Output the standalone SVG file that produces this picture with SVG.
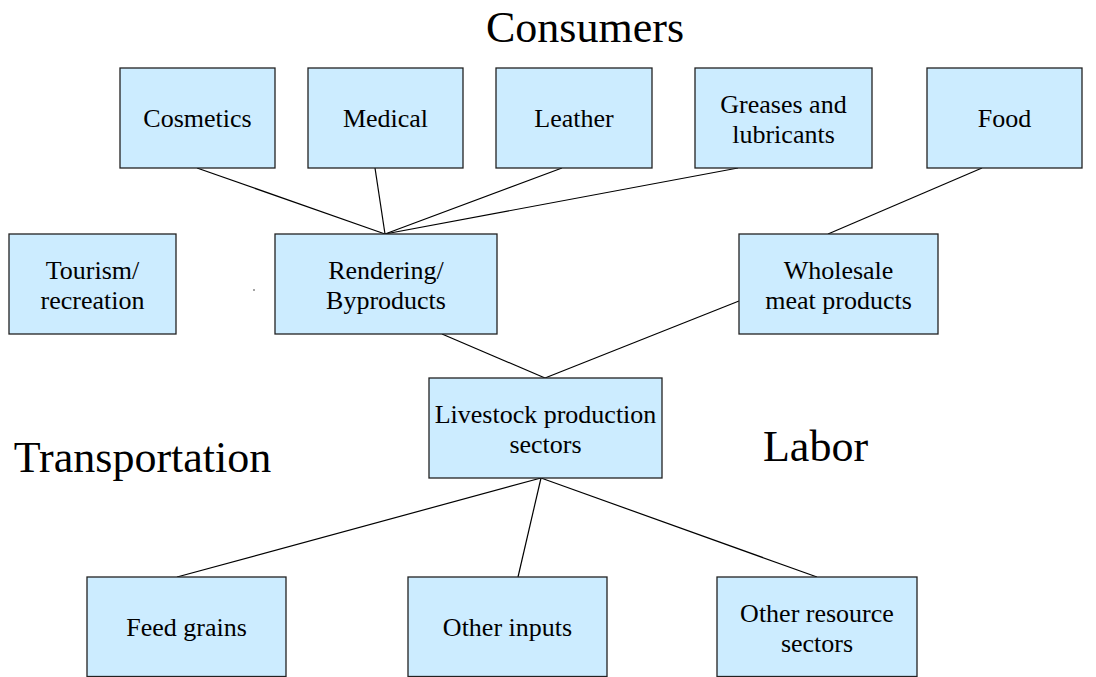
<svg xmlns="http://www.w3.org/2000/svg" width="1096" height="677" viewBox="0 0 1096 677">
  <style>
    .box { fill: #CCECFF; stroke: #222222; stroke-width: 1.3; }
    .lbl { font-family: "Liberation Serif", "Times New Roman", serif; font-size: 26px; fill: #000000; text-anchor: middle; }
    .big { font-family: "Liberation Serif", "Times New Roman", serif; font-size: 44px; fill: #000000; text-anchor: middle; }
    .link { stroke: #000000; stroke-width: 1.2; fill: none; }
  </style>
  <rect x="0" y="0" width="1096" height="677" fill="#FFFFFF"/>

  <!-- free-standing headings -->
  <g id="headings">
    <text class="big" x="585" y="42">Consumers</text>
    <text class="big" x="142.5" y="472">Transportation</text>
    <text class="big" x="815.5" y="461">Labor</text>
  </g>

  <!-- connectors -->
  <g id="connectors">
    <line class="link" x1="197" y1="168" x2="385" y2="234"/>
    <line class="link" x1="375" y1="168" x2="385" y2="234"/>
    <line class="link" x1="562" y1="168" x2="385" y2="234"/>
    <line class="link" x1="738" y1="168" x2="385" y2="234"/>
    <line class="link" x1="982" y1="168" x2="828" y2="234"/>
    <line class="link" x1="442" y1="334" x2="545" y2="378"/>
    <line class="link" x1="739" y1="301" x2="545" y2="378"/>
    <line class="link" x1="541" y1="478" x2="177" y2="577"/>
    <line class="link" x1="541" y1="478" x2="518" y2="577"/>
    <line class="link" x1="541" y1="478" x2="817" y2="577"/>
  </g>

  <!-- consumer sectors -->
  <g id="cosmetics">
    <rect class="box" x="120" y="68" width="155" height="100"/>
    <text class="lbl" x="197.5" y="127">Cosmetics</text>
  </g>
  <g id="medical">
    <rect class="box" x="308" y="68" width="155" height="100"/>
    <text class="lbl" x="385.5" y="127">Medical</text>
  </g>
  <g id="leather">
    <rect class="box" x="496" y="68" width="156" height="100"/>
    <text class="lbl" x="574" y="127">Leather</text>
  </g>
  <g id="greases">
    <rect class="box" x="695" y="68" width="177" height="100"/>
    <text class="lbl" x="783.5" y="112.5">Greases and</text>
    <text class="lbl" x="783.5" y="142.5">lubricants</text>
  </g>
  <g id="food">
    <rect class="box" x="927" y="68" width="155" height="100"/>
    <text class="lbl" x="1004.5" y="127">Food</text>
  </g>

  <!-- processing sectors -->
  <g id="tourism">
    <rect class="box" x="9" y="234" width="167" height="100"/>
    <text class="lbl" x="92.5" y="278.5">Tourism/</text>
    <text class="lbl" x="92.5" y="308.5">recreation</text>
  </g>
  <circle cx="254" cy="290" r="0.8" fill="#333333"/>
  <g id="rendering">
    <rect class="box" x="275" y="234" width="222" height="100"/>
    <text class="lbl" x="386" y="278.5">Rendering/</text>
    <text class="lbl" x="386" y="308.5">Byproducts</text>
  </g>
  <g id="wholesale">
    <rect class="box" x="739" y="234" width="199" height="100"/>
    <text class="lbl" x="838.5" y="278.5">Wholesale</text>
    <text class="lbl" x="838.5" y="308.5">meat products</text>
  </g>

  <!-- production -->
  <g id="livestock">
    <rect class="box" x="429" y="378" width="233" height="100"/>
    <text class="lbl" x="545.5" y="422.5">Livestock production</text>
    <text class="lbl" x="545.5" y="452.5">sectors</text>
  </g>

  <!-- inputs -->
  <g id="feed-grains">
    <rect class="box" x="87" y="577" width="199" height="99.5"/>
    <text class="lbl" x="186.5" y="636">Feed grains</text>
  </g>
  <g id="other-inputs">
    <rect class="box" x="408" y="577" width="199" height="99.5"/>
    <text class="lbl" x="507.5" y="636">Other inputs</text>
  </g>
  <g id="other-resource">
    <rect class="box" x="717" y="577" width="200" height="99.5"/>
    <text class="lbl" x="817" y="621.5">Other resource</text>
    <text class="lbl" x="817" y="651.5">sectors</text>
  </g>
</svg>
